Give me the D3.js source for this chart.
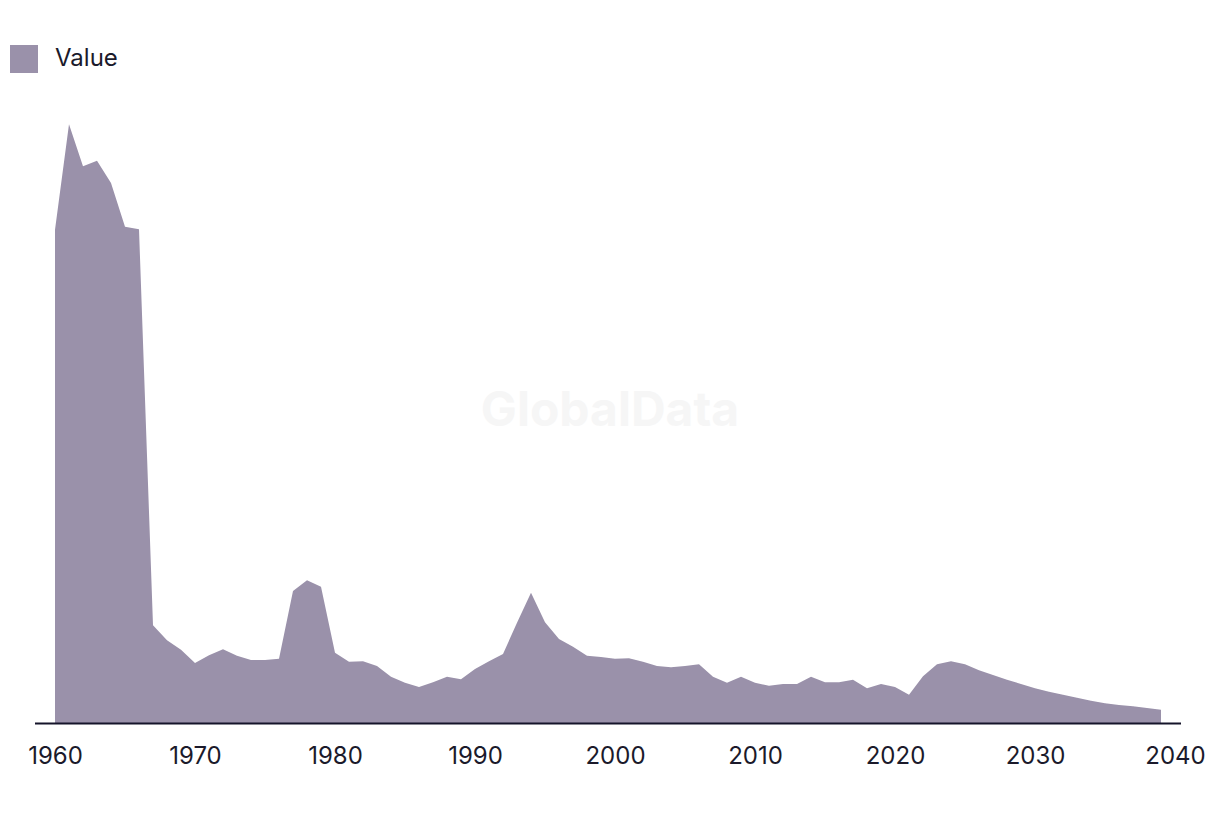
<!DOCTYPE html>
<html>
<head>
<meta charset="utf-8">
<script src="https://cdn.jsdelivr.net/npm/d3@7"></script>
<style>
  body { margin: 0; background: #fff; }
  svg { display: block; font-family: Inter, Roboto, "Noto Sans", sans-serif; }
  .tick-label { font-size: 24px; fill: #1b1a2b; }
  .legend-label { font-size: 24px; fill: #1b1a2b; }
  .watermark { font-size: 48px; font-weight: 700; fill: #f6f6f6; }
</style>
</head>
<body>
<svg id="chart" width="1220" height="814"></svg>
<script>
const years = d3.range(1960, 2040);
const values = [
  82.2, 99.8, 92.8, 93.7, 90.0, 82.7, 82.3, 16.3, 13.8, 12.2,
  10.0, 11.3, 12.3, 11.2, 10.5, 10.5, 10.7, 22.0, 23.8, 22.7,
  11.7, 10.2, 10.3, 9.5, 7.7, 6.7, 6.0, 6.8, 7.7, 7.3,
  9.0, 10.3, 11.5, 16.7, 21.7, 16.8, 14.0, 12.7, 11.2, 11.0,
  10.7, 10.8, 10.2, 9.5, 9.3, 9.5, 9.8, 7.7, 6.7, 7.7,
  6.7, 6.2, 6.5, 6.5, 7.7, 6.8, 6.8, 7.2, 5.8, 6.5,
  6.0, 4.7, 7.8, 9.8, 10.3, 9.8, 8.8, 8.0, 7.2, 6.5,
  5.8, 5.2, 4.7, 4.2, 3.7, 3.3, 3.0, 2.8, 2.5, 2.2
];
const tickYears = [1960, 1970, 1980, 1990, 2000, 2010, 2020, 2030, 2040];
const seriesName = "Value";

const fillColor = "#9a91aa";
const data = years.map((year, i) => ({ year, value: values[i] }));

const svg = d3.select("#chart");

const x = d3.scaleLinear().domain([1960, 2040]).range([55, 1175]);
const y = d3.scaleLinear().domain([0, 100]).range([723, 123]);

// watermark
svg.append("text")
  .attr("class", "watermark")
  .attr("x", 610)
  .attr("y", 426)
  .attr("text-anchor", "middle")
  .text("GlobalData");

const area = d3.area()
  .x((d) => x(d.year))
  .y0(y(0))
  .y1((d) => y(d.value));

svg.append("path")
  .datum(data)
  .attr("fill", fillColor)
  .attr("d", area);

// baseline
svg.append("line")
  .attr("x1", 35)
  .attr("x2", 1181)
  .attr("y1", y(0) + 0.5)
  .attr("y2", y(0) + 0.5)
  .attr("stroke", "#15142a")
  .attr("stroke-width", 2);

const axis = d3.axisBottom(x).tickValues(tickYears).tickFormat(d3.format("d")).tickSize(0).tickPadding(0);
const axisG = svg.append("g")
  .attr("transform", `translate(0, ${y(0)})`)
  .call(axis);
axisG.select(".domain").remove();
axisG.selectAll("text")
  .attr("class", "tick-label")
  .attr("dy", null)
  .attr("y", 41)
  .attr("fill", null);
axisG.attr("font-size", null).attr("font-family", null);

// legend
svg.append("rect")
  .attr("x", 10)
  .attr("y", 45)
  .attr("width", 28)
  .attr("height", 28)
  .attr("fill", fillColor);

svg.append("text")
  .attr("class", "legend-label")
  .attr("x", 55)
  .attr("y", 66)
  .text(seriesName);
</script>
</body>
</html>
